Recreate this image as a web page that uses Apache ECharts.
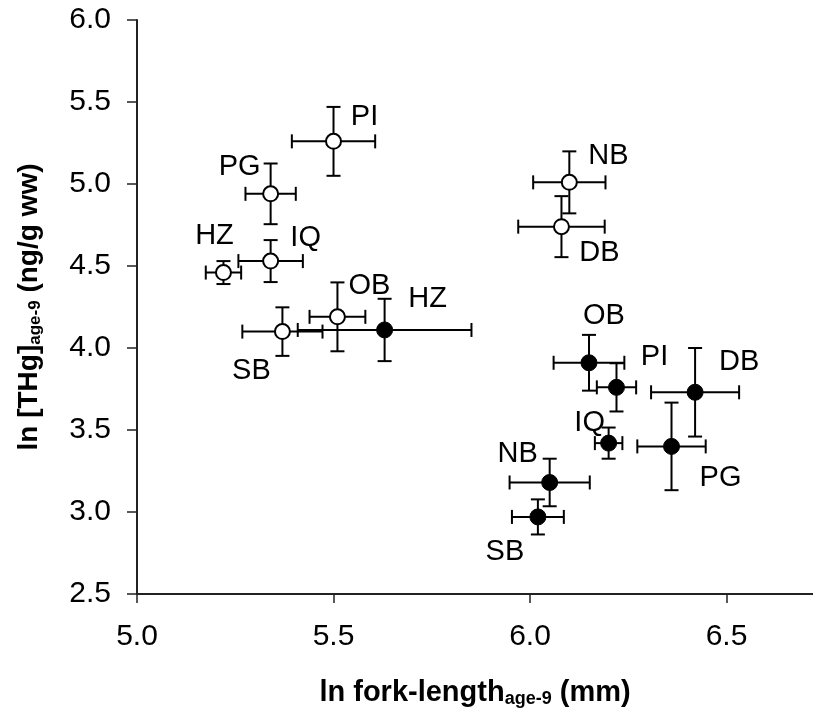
<!DOCTYPE html>
<html><head><meta charset="utf-8">
<script src="https://cdn.jsdelivr.net/npm/echarts@6/dist/echarts.min.js"></script>
<style>html,body{margin:0;padding:0;background:#fff}#c{width:813px;height:713px}</style>
</head><body><div id="c"></div>
<script>
// Open circles
const openNames = ['PI','PG','IQ','HZ','SB','OB','NB','DB'];
const openX     = [5.50, 5.34, 5.34, 5.22, 5.37, 5.51, 6.10, 6.08];
const openY     = [5.26, 4.94, 4.53, 4.46, 4.10, 4.19, 5.01, 4.74];
const openXErr  = [0.106, 0.064, 0.082, 0.045, 0.102, 0.071, 0.092, 0.110];
const openYErr  = [0.21, 0.185, 0.128, 0.07, 0.148, 0.21, 0.189, 0.186];
// Filled circles
const filledNames = ['HZ','OB','PI','DB','IQ','PG','NB','SB'];
const filledX     = [5.63, 6.15, 6.22, 6.42, 6.20, 6.36, 6.05, 6.02];
const filledY     = [4.11, 3.91, 3.76, 3.73, 3.42, 3.40, 3.18, 2.97];
const filledXErr  = [0.221, 0.09, 0.05, 0.112, 0.035, 0.087, 0.102, 0.066];
const filledYErr  = [0.19, 0.17, 0.147, 0.27, 0.095, 0.267, 0.145, 0.107];
// label offsets (px, style only)
const openLabelOffsets   = [[31,-24],[-31,-27],[35,-23],[-9,-37],[-31,39],[32,-31],[39,-26],[38,26]];
const filledLabelOffsets = [[43,-31],[15,-47],[38,-30],[44,-30],[-19,-20],[49,32],[-32,-28],[-33,35]];

const FONT = 'Liberation Sans, Arial, sans-serif';

function errData(xs, ys, xe, ye){
  return xs.map((x,i)=>[x, ys[i], xe[i], ye[i]]);
}
function renderErr(params, api){
  const x = api.value(0), y = api.value(1), ex = api.value(2), ey = api.value(3);
  const l = api.coord([x-ex, y]), r = api.coord([x+ex, y]);
  const t = api.coord([x, y+ey]), b = api.coord([x, y-ey]);
  const cap = 7;
  const st = {stroke:'#000', lineWidth:2};
  return {type:'group', children:[
    {type:'line', shape:{x1:l[0],y1:l[1],x2:r[0],y2:r[1]}, style:st},
    {type:'line', shape:{x1:l[0],y1:l[1]-cap,x2:l[0],y2:l[1]+cap}, style:st},
    {type:'line', shape:{x1:r[0],y1:r[1]-cap,x2:r[0],y2:r[1]+cap}, style:st},
    {type:'line', shape:{x1:t[0],y1:t[1],x2:b[0],y2:b[1]}, style:st},
    {type:'line', shape:{x1:t[0]-cap,y1:t[1],x2:t[0]+cap,y2:t[1]}, style:st},
    {type:'line', shape:{x1:b[0]-cap,y1:b[1],x2:b[0]+cap,y2:b[1]}, style:st}
  ]};
}
function pts(xs, ys, names, offs){
  return xs.map((x,i)=>({value:[x, ys[i]], name:names[i], label:{offset:offs[i]}}));
}
const labelStyle = {show:true, position:'inside', formatter:'{b}', color:'#000', fontSize:29, fontFamily:FONT};

const chart = echarts.init(document.getElementById('c'), null, {renderer:'canvas'});
chart.setOption({
  animation:false,
  backgroundColor:'#fff',
  grid:{left:137, right:0, top:20, bottom:119},
  xAxis:{
    type:'value', min:5.0, max:6.72, interval:0.5,
    axisLine:{lineStyle:{color:'#222', width:2}},
    axisTick:{length:9, lineStyle:{color:'#222', width:1.5}},
    splitLine:{show:false},
    axisLabel:{color:'#000', fontSize:30, fontFamily:FONT, margin:28, showMaxLabel:false,
      formatter:v=>v.toFixed(1)},
    name:'{n|ln fork-length}{s|age-9}{n| (mm)}', nameLocation:'middle', nameGap:83,
    nameTextStyle:{rich:{
      n:{fontSize:29, fontWeight:'bold', fontFamily:FONT, color:'#000'},
      s:{fontSize:18, fontWeight:'bold', fontFamily:FONT, color:'#000', padding:[13,0,0,0]}
    }}
  },
  yAxis:{
    type:'value', min:2.5, max:6.0, interval:0.5,
    axisLine:{lineStyle:{color:'#222', width:2}},
    axisTick:{length:10, lineStyle:{color:'#222', width:1.5}},
    splitLine:{show:false},
    axisLabel:{color:'#000', fontSize:30, fontFamily:FONT, margin:26,
      formatter:v=>v.toFixed(1)},
    name:'{n|ln [THg]}{s|age-9}{n| (ng/g ww)}', nameLocation:'middle', nameGap:93, nameRotate:90,
    nameTextStyle:{rich:{
      n:{fontSize:28, fontWeight:'bold', fontFamily:FONT, color:'#000'},
      s:{fontSize:17, fontWeight:'bold', fontFamily:FONT, color:'#000', padding:[12,0,0,0]}
    }}
  },
  series:[
    {type:'custom', renderItem:renderErr, data:errData(openX, openY, openXErr, openYErr), z:2, silent:true},
    {type:'custom', renderItem:renderErr, data:errData(filledX, filledY, filledXErr, filledYErr), z:2, silent:true},
    {type:'scatter', symbol:'circle', symbolSize:15, z:5,
      itemStyle:{color:'#fff', borderColor:'#000', borderWidth:2, opacity:1},
      label:labelStyle, data:pts(openX, openY, openNames, openLabelOffsets)},
    {type:'scatter', symbol:'circle', symbolSize:16, z:5,
      itemStyle:{color:'#000', borderColor:'#000', borderWidth:1, opacity:1},
      label:labelStyle, data:pts(filledX, filledY, filledNames, filledLabelOffsets)}
  ]
});
</script></body></html>
